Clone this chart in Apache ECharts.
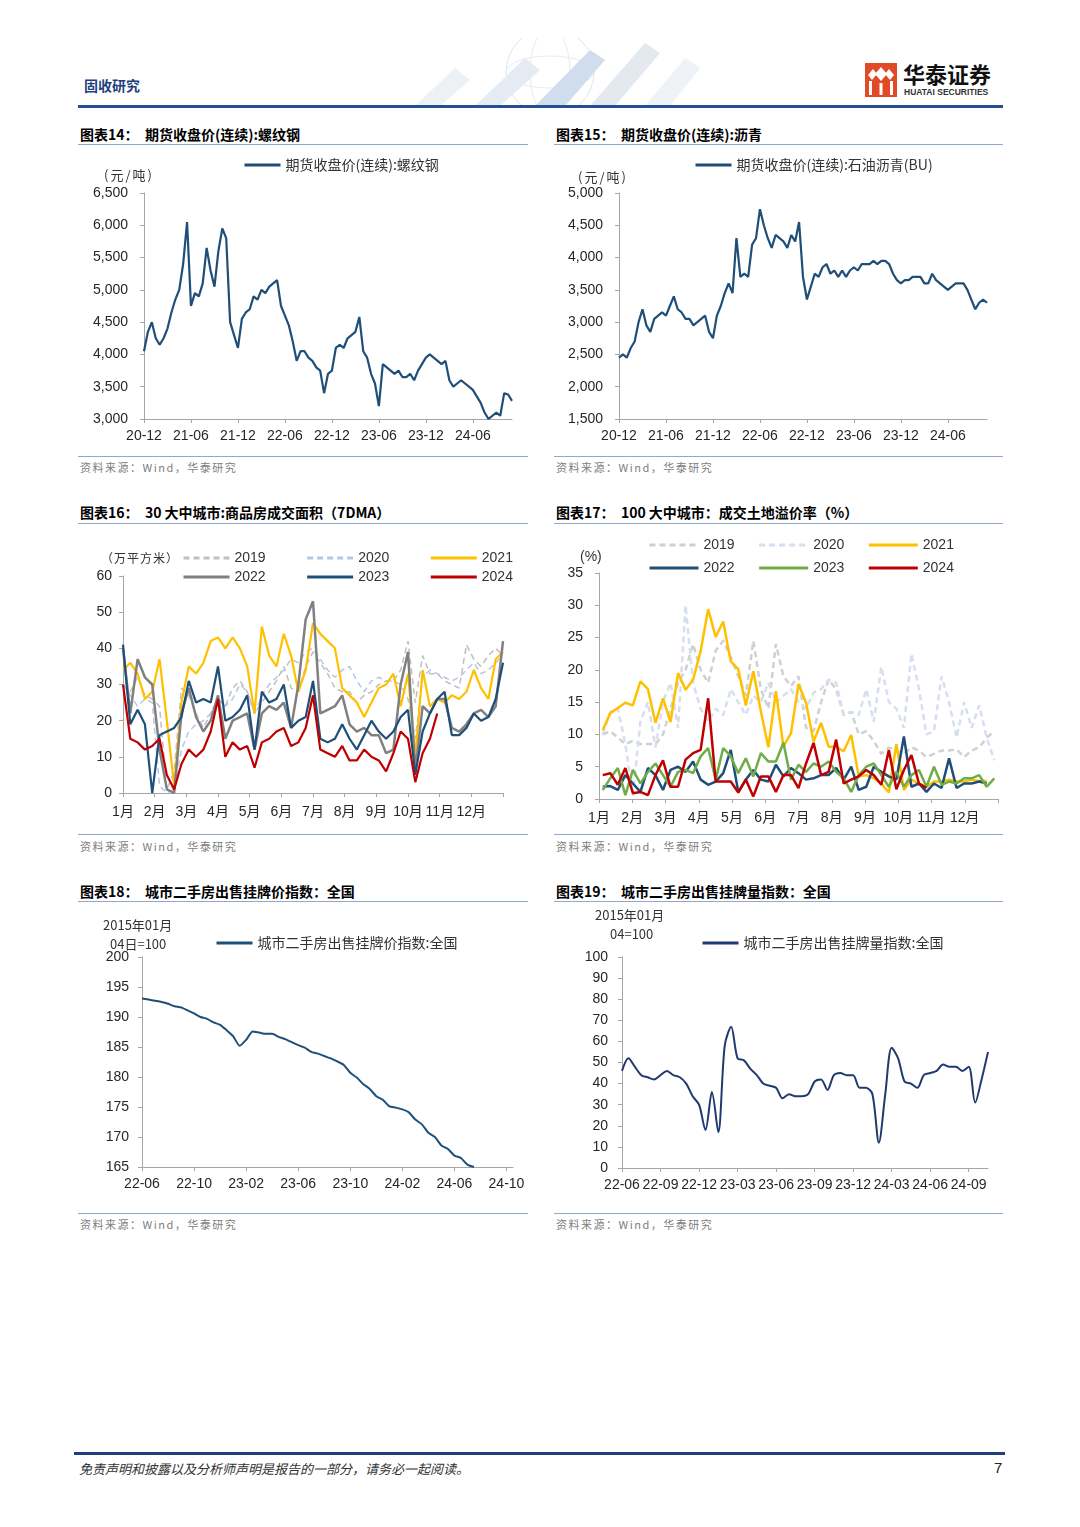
<!DOCTYPE html>
<html>
<head>
<meta charset="utf-8">
<script src="https://cdn.jsdelivr.net/npm/echarts@6/dist/echarts.min.js"></script>
<style>
  body { margin: 0; background: #fff; }
  #page { position: relative; width: 1080px; height: 1527px; overflow: hidden; background: #fff;
          font-family: 'Noto Sans CJK SC', 'Liberation Sans', sans-serif; }
  .abs { position: absolute; white-space: nowrap; }
  .title { font-size: 14px; font-weight: bold; color: #000; line-height: 18px; }
  .rule { position: absolute; height: 1px; background: #8eaacb; }
  .src { font-size: 11px; letter-spacing: 1.5px; color: #808080; line-height: 14px; }
  .unit { font-size: 12px; color: #333; line-height: 16px; }
  .chart { position: absolute; width: 450px; height: 300px; }
</style>
</head>
<body>
<div id="page">
  <!-- header -->
  <svg class="abs" style="left:415px;top:38px" width="300" height="68">
    <g opacity="0.55">
      <circle cx="135" cy="34" r="44" fill="none" stroke="#c9d3df" stroke-width="1"/>
      <ellipse cx="135" cy="34" rx="20" ry="44" fill="none" stroke="#d5dce6" stroke-width="1"/>
      <ellipse cx="135" cy="34" rx="44" ry="16" fill="none" stroke="#d5dce6" stroke-width="1"/>
      <polygon points="0,68 40,30 55,42 25,68" fill="#dfe6ef"/>
      <polygon points="60,68 110,20 125,32 85,68" fill="#cfdceb"/>
      <polygon points="120,68 175,12 190,22 150,68" fill="#a9c2e0"/>
      <polygon points="175,68 230,5 245,15 200,68" fill="#cfd8e4"/>
      <polygon points="230,68 270,20 285,30 255,68" fill="#e3e8ef"/>
    </g>
  </svg>
  <div class="abs" style="left:84px;top:76px;font-size:14px;font-weight:bold;color:#1f3f7f;line-height:18px">固收研究</div>
  <svg class="abs" style="left:865px;top:63px" width="32" height="34">
    <rect x="0" y="0" width="32" height="34" fill="#e04a24"/>
    <polygon points="16,4 22,11 16,18 10,11" fill="#fff"/>
    <polygon points="3,12 8,6 12,11 7,17" fill="#fff"/>
    <polygon points="29,12 24,6 20,11 25,17" fill="#fff"/>
    <rect x="4" y="18" width="3" height="14" fill="#fff"/>
    <rect x="25" y="18" width="3" height="14" fill="#fff"/>
    <rect x="14.5" y="20" width="3" height="12" fill="#fff"/>
  </svg>
  <div class="abs" style="left:903px;top:59px;font-size:22px;font-weight:bold;color:#111;line-height:28px">华泰证券</div>
  <div class="abs" style="left:904px;top:87px;font-size:8.5px;font-weight:bold;color:#333;line-height:11px;font-family:'Liberation Sans'">HUATAI SECURITIES</div>
  <div class="abs" style="left:78px;top:105px;width:925px;height:3px;background:#23508e"></div>

  <!-- titles -->
  <div class="abs title" style="left:80px;top:125px">图表14：&nbsp;&nbsp;期货收盘价(连续):螺纹钢</div>
  <div class="abs title" style="left:556px;top:125px">图表15：&nbsp;&nbsp;期货收盘价(连续):沥青</div>
  <div class="abs title" style="left:80px;top:503px">图表16：&nbsp;&nbsp;30 大中城市:商品房成交面积（7DMA）</div>
  <div class="abs title" style="left:556px;top:503px">图表17：&nbsp;&nbsp;100 大中城市：成交土地溢价率（%）</div>
  <div class="abs title" style="left:80px;top:882px">图表18：&nbsp;&nbsp;城市二手房出售挂牌价指数：全国</div>
  <div class="abs title" style="left:556px;top:882px">图表19：&nbsp;&nbsp;城市二手房出售挂牌量指数：全国</div>

  <div class="rule" style="left:78px;top:144px;width:450px"></div>
  <div class="rule" style="left:554px;top:144px;width:449px"></div>
  <div class="rule" style="left:78px;top:523px;width:450px"></div>
  <div class="rule" style="left:554px;top:523px;width:449px"></div>
  <div class="rule" style="left:78px;top:901px;width:450px"></div>
  <div class="rule" style="left:554px;top:901px;width:449px"></div>

  <div class="rule" style="left:78px;top:456px;width:450px"></div>
  <div class="rule" style="left:554px;top:456px;width:449px"></div>
  <div class="rule" style="left:78px;top:834px;width:450px"></div>
  <div class="rule" style="left:554px;top:834px;width:449px"></div>
  <div class="rule" style="left:78px;top:1213px;width:450px"></div>
  <div class="rule" style="left:554px;top:1213px;width:449px"></div>

  <div class="abs src" style="left:80px;top:460px">资料来源：Wind，华泰研究</div>
  <div class="abs src" style="left:556px;top:460px">资料来源：Wind，华泰研究</div>
  <div class="abs src" style="left:80px;top:839px">资料来源：Wind，华泰研究</div>
  <div class="abs src" style="left:556px;top:839px">资料来源：Wind，华泰研究</div>
  <div class="abs src" style="left:80px;top:1217px">资料来源：Wind，华泰研究</div>
  <div class="abs src" style="left:556px;top:1217px">资料来源：Wind，华泰研究</div>

  <!-- charts -->
  <div id="c14" class="chart" style="left:80px;top:150px"></div>
  <div id="c15" class="chart" style="left:555px;top:150px"></div>
  <div id="c16" class="chart" style="left:80px;top:530px"></div>
  <div id="c17" class="chart" style="left:555px;top:530px"></div>
  <div id="c18" class="chart" style="left:80px;top:910px"></div>
  <div id="c19" class="chart" style="left:555px;top:910px"></div>

  <!-- units -->
  <div class="abs unit" style="left:104px;top:167px;font-size:13px;letter-spacing:2px">(元/吨)</div>
  <div class="abs unit" style="left:578px;top:169px;font-size:13px;letter-spacing:2px">(元/吨)</div>
  <div class="abs unit" style="left:101px;top:550px;letter-spacing:1px">（万平方米）</div>
  <div class="abs unit" style="left:580px;top:548px;font-size:14px;font-family:'Liberation Sans'">(%)</div>
  <div class="abs unit" style="left:103px;top:917px;font-size:13px">2015年01月</div>
  <div class="abs unit" style="left:110px;top:936px;font-size:13px">04日=100</div>
  <div class="abs unit" style="left:595px;top:907px;font-size:13px">2015年01月</div>
  <div class="abs unit" style="left:610px;top:926px;font-size:13px">04=100</div>

  <!-- footer -->
  <div class="abs" style="left:74px;top:1452px;width:931px;height:3px;background:#1f3f7f"></div>
  <div class="abs" style="left:79px;top:1460px;font-size:13px;font-style:italic;color:#333;line-height:18px">免责声明和披露以及分析师声明是报告的一部分，请务必一起阅读。</div>
  <div class="abs" style="left:994px;top:1459px;font-size:15px;color:#222;line-height:18px;font-family:'Liberation Sans'">7</div>
</div>

<script>
// ---- data ----
// half-month samples, 20-12 .. 24-11
const rebar = [4050, 4350, 4500, 4250, 4150, 4250, 4400, 4650, 4850, 5000,
  5400, 6050, 4750, 4950, 4900, 5100, 5650, 5300, 5050, 5600,
  5950, 5800, 4500, 4300, 4100, 4550, 4650, 4700, 4900, 4850,
  5000, 4950, 5050, 5100, 5150, 4750, 4600, 4450, 4200, 3900,
  4050, 4050, 3950, 3900, 3800, 3750, 3400, 3700, 3750, 4100,
  4150, 4100, 4250, 4300, 4350, 4580, 4050, 3950, 3700, 3550,
  3200, 3850, 3800, 3750, 3700, 3750, 3650, 3650, 3700, 3600,
  3750, 3850, 3950, 4000, 3950, 3900, 3850, 3900, 3600, 3500,
  3550, 3600, 3550, 3500, 3450, 3350, 3250, 3100, 3000, 3050,
  3100, 3050, 3400, 3380, 3280]
const asphalt = [2450, 2500, 2450, 2600, 2700, 3000, 3200, 2950, 2850, 3050,
  3100, 3150, 3100, 3250, 3400, 3200, 3150, 3050, 3050, 2950,
  3000, 3050, 3100, 2850, 2750, 3100, 3250, 3450, 3600, 3450,
  4300, 3700, 3750, 3700, 4200, 4300, 4750, 4500, 4300, 4150,
  4350, 4300, 4250, 4150, 4350, 4250, 4550, 3700, 3350, 3550,
  3750, 3700, 3850, 3900, 3750, 3800, 3700, 3800, 3700, 3800,
  3850, 3800, 3900, 3900, 3900, 3950, 3900, 3950, 3950, 3900,
  3750, 3650, 3600, 3650, 3650, 3700, 3700, 3700, 3600, 3600,
  3750, 3650, 3600, 3550, 3500, 3550, 3600, 3600, 3600, 3500,
  3350, 3200, 3300, 3350, 3300]

// weekly 7DMA, wan m2
const area2019 = [30, 28, 32, 27, 26, 24, 1, 6, 29, 27, 22, 18, 22, 26, 24, 29, 31, 28, 22, 25,
  28, 31, 35, 29, 28, 35, 39, 36, 33, 29, 28, 28, 25, 27, 28, 30, 31, 31, 34, 42,
  25, 38, 33, 33, 31, 30, 29, 41, 37, 35, 38, 40, 38]
const area2020 = [30, 27, 24, 26, 25, 2, 0, 1, 12, 17, 19, 20, 22, 26, 24, 26, 30, 28, 22, 27,
  30, 32, 34, 37, 36, 39, 40, 37, 34, 32, 34, 35, 31, 28, 31, 32, 31, 31, 30, 26,
  15, 32, 34, 33, 32, 31, 32, 34, 36, 33, 34, 36, 38]
const area2021 = [34, 36, 33, 26, 28, 37, 20, 2, 25, 35, 33, 36, 42, 43, 40, 43, 40, 35, 22, 46,
  38, 35, 44, 38, 28, 34, 47, 44, 42, 40, 29, 27, 25, 21, 25, 29, 30, 33, 24, 33,
  10, 34, 24, 26, 25, 27, 26, 28, 34, 29, 26, 37, 39]
const area2022 = [40, 22, 37, 32, 30, 12, 1, 0, 22, 29, 21, 17, 20, 27, 15, 20, 21, 22, 12, 22,
  24, 23, 25, 18, 30, 48, 53, 22, 23, 24, 27, 19, 17, 18, 16, 16, 11, 12, 30, 39,
  6, 24, 22, 26, 26, 18, 17, 19, 22, 23, 21, 24, 42]
const area2023 = [41, 19, 23, 19, 0, 16, 17, 18, 21, 31, 25, 26, 25, 35, 20, 21, 23, 27, 12, 28,
  25, 26, 30, 18, 20, 21, 31, 15, 14, 15, 19, 15, 12, 16, 20, 17, 15, 17, 21, 23,
  5, 17, 22, 26, 28, 16, 16, 18, 22, 20, 21, 26, 36]
const area2024 = [30, 15, 14, 12, 13, 15, 5, 1, 8, 12, 10, 12, 17, 26, 10, 14, 12, 13, 7, 14,
  15, 17, 18, 13, 14, 18, 27, 12, 11, 10, 13, 9, 9, 12, 10, 9, 6, 11, 17, 15,
  3, 11, 15, 22]

// weekly land premium rate, %
const prem2019 = [10, 10.5, 9.5, 8.5, 9, 8.5, 8.5, 8.5, 10, 14, 18, 20, 24, 20, 18, 23, 24.5, 22, 19, 16,
  24.5, 17, 14, 24, 19, 17.5, 19, 11, 10.5, 15, 18.5, 17, 13, 13.5, 10, 10.5, 9, 7, 8, 7.5,
  7, 8, 7.5, 6.5, 7, 7.5, 7.5, 7.7, 6.5, 7.5, 8, 9.5, 10.5]
const prem2020 = [10, 13.5, 14, 8.5, 0.5, 12, 15, 8, 15, 18, 11, 30, 18, 14, 12, 14, 13, 17, 15, 13,
  16, 15, 18, 15, 16, 17, 15, 14, 16.5, 17, 18.5, 18, 13, 13.5, 13, 17, 12, 20.5, 15, 14,
  11, 22.5, 17, 10, 10.5, 19, 15, 9.5, 15, 11, 14.5, 9.5, 6]
const prem2021 = [10.7, 13.3, 14.1, 14.9, 14.5, 18.2, 17.0, 11.8, 15.6, 11.9, 19.5, 16.9, 18.5, 22.9, 29.4, 25.1, 27.5, 21.3, 20.1, 14.5,
  19.8, 13.6, 8.0, 16.7, 8.1, 10.2, 17.8, 14.9, 8.9, 11.8, 8.1, 8.1, 7.4, 9.9, 3.5, 3.7, 3.2, 2.4, 1.0, 8.5,
  1.4, 3.0, 2.4, 1.9, 2.7, 2.7, 3.0, 2.7, 2.7, 3.0, 2.8, 2.8]
const prem2022 = [1.9, 2.0, 1.4, 3.7, 2.4, 1.1, 4.8, 3.7, 1.4, 4.5, 5.0, 4.2, 5.8, 3.0, 2.2, 2.7, 4.0, 7.6, 1.1, 3.0,
  4.5, 3.0, 2.7, 5.3, 3.5, 4.8, 4.0, 3.0, 3.2, 3.7, 3.7, 4.8, 3.0, 5.0, 1.4, 1.9, 5.0, 4.2, 3.5, 3.0,
  9.7, 1.9, 2.4, 1.1, 2.4, 1.7, 6.3, 1.7, 2.4, 2.4, 2.7, 2.4]
const prem2023 = [1.4, 3.2, 4.8, 0.6, 4.5, 2.4, 4.2, 5.5, 3.7, 1.9, 4.2, 4.5, 4.0, 6.6, 7.9, 3.0, 7.9, 6.6, 4.0, 6.3,
  3.5, 7.1, 5.8, 5.8, 8.7, 3.0, 5.3, 4.2, 5.5, 5.0, 5.8, 4.2, 3.2, 1.1, 3.7, 5.0, 5.5, 3.7, 1.9, 4.2,
  1.9, 3.7, 4.5, 1.9, 5.0, 2.2, 2.7, 2.4, 3.2, 3.2, 3.7, 1.9, 3.2]
const prem2024 = [3.7, 4.0, 2.2, 4.8, 0.9, 1.1, 0.6, 3.7, 6.0, 1.9, 1.9, 6.1, 7.1, 7.6, 15.6, 2.7, 2.7, 2.7, 1.0, 3.0,
  0.4, 3.5, 3.5, 1.1, 3.7, 3.7, 1.7, 5.5, 8.7, 3.7, 4.2, 9.2, 2.4, 3.0, 3.5, 4.5, 3.7, 2.2, 7.6, 1.5,
  4.5, 6.8, 2.4, 1.7]
const monthNames = ['1月', '2月', '3月', '4月', '5月', '6月', '7月', '8月', '9月', '10月', '11月', '12月']

// half-month samples, 22-06 .. 24-10
const listPrice = [193.1, 192.9, 192.7, 192.5, 192.2, 191.8, 191.6, 191.1, 190.6, 190.0,
  189.7, 189.1, 188.7, 187.8, 186.8, 185.2, 186.2, 187.6, 187.4, 187.2,
  187.2, 186.7, 186.3, 185.8, 185.3, 184.9, 184.2, 183.9, 183.5, 183.1,
  182.6, 182.0, 180.7, 179.9, 178.8, 178.0, 176.8, 176.2, 175.1, 174.9,
  174.6, 174.1, 172.9, 172.1, 170.7, 170.0, 168.6, 168.0, 166.9, 166.5,
  165.4, 165.0]
const listVolume = [46, 52, 48, 44, 43, 42, 44, 46, 44, 43,
  40, 34, 30, 18, 36, 17, 58, 67, 52, 51,
  47, 44, 40, 39, 38, 33, 35, 34, 34, 35,
  41, 42, 37, 44, 45, 44, 44, 38, 38, 35,
  12, 35, 57, 52, 41, 40, 38, 44, 45, 46,
  49, 48, 48, 46, 48, 31, 42, 55]

// ---- helpers ----
const FONT = "'Liberation Sans', 'Noto Sans CJK SC', sans-serif"
const CJK = "'Noto Sans CJK SC', sans-serif"
const AX = '#a6a6a6'
const LABEL = '#262626'

function halfMonths(start, count) {
  let [y, m] = start.split('-').map(Number)
  const out = []
  for (let i = 0; i < count; i++) {
    out.push(String(y).slice(2) + '-' + String(m).padStart(2, '0') + (i % 2 ? '-16' : '-01'))
    if (i % 2) { m++; if (m > 12) { m = 1; y++ } }
  }
  return out
}

function catX(cats, step, boundaryGap) {
  const show = (i) => i % step === 0
  return {
    type: 'category', data: cats, boundaryGap: !!boundaryGap,
    axisLine: { show: true, lineStyle: { color: AX } },
    axisTick: { show: true, interval: show, length: 4, lineStyle: { color: AX } },
    axisLabel: { interval: show, formatter: (v) => v.slice(0, 5), color: LABEL, fontSize: 14, fontFamily: FONT, margin: 10 },
    splitLine: { show: false },
  }
}

function monthX() {
  return {
    type: 'value', min: 0, max: 12, interval: 1, position: 'bottom',
    axisLine: { show: true, lineStyle: { color: AX } },
    axisTick: { show: true, length: 4, lineStyle: { color: AX } },
    axisLabel: { formatter: (v) => monthNames[v] || '', color: LABEL, fontSize: 14, fontFamily: FONT, margin: 12 },
    splitLine: { show: false },
  }
}

function valY(min, max, interval, margin, fmt) {
  return {
    type: 'value', min, max, interval,
    axisLine: { show: true, lineStyle: { color: AX } },
    axisTick: { show: true, length: 4, lineStyle: { color: AX } },
    axisLabel: { color: LABEL, fontSize: 14, fontFamily: FONT, margin, formatter: fmt },
    splitLine: { show: false },
  }
}

function line(name, data, color, width, dashed, extra) {
  return Object.assign({
    name, type: 'line', data, symbol: 'none', showSymbol: false,
    itemStyle: { color },
    lineStyle: { color, width, type: dashed ? [6, 4] : 'solid' },
    emphasis: { disabled: true },
  }, extra || {})
}

// itemHeight kept tiny so the legend's marker dot disappears into the line
function legendRow(names, left, top, itemWidth, gap, fontSize, fontFamily) {
  return {
    data: names, left, top, itemWidth, itemHeight: 2, itemGap: gap,
    orient: 'horizontal', selectedMode: false, padding: 0,
    itemStyle: { borderWidth: 0 },
    lineStyle: { width: 3 },
    textStyle: { color: '#333', fontSize, fontFamily: fontFamily || FONT },
  }
}

function grid(left, top, width, height) {
  return { left, top, width, height, containLabel: false, outerBoundsMode: 'none' }
}

const thousands = (v) => v.toLocaleString('en-US')

// ---- charts ----
function init(id, option) {
  const chart = echarts.init(document.getElementById(id), null, { renderer: 'canvas' })
  chart.setOption(Object.assign({ animation: false, textStyle: { fontFamily: FONT } }, option))
  return chart
}

const cats14 = halfMonths('2020-12', 95)

init('c14', {
  grid: grid(64, 43, 368, 226),
  legend: legendRow(['期货收盘价(连续):螺纹钢'], 163, 8, 36, 10, 14, CJK),
  xAxis: catX(cats14, 12),
  yAxis: valY(3000, 6500, 500, 16, thousands),
  series: [line('期货收盘价(连续):螺纹钢', rebar, '#1f4e79', 2.2)],
})

init('c15', {
  grid: grid(64, 43, 368, 226),
  legend: legendRow(['期货收盘价(连续):石油沥青(BU)'], 139, 8, 36, 10, 14, CJK),
  xAxis: catX(cats14, 12),
  yAxis: valY(1500, 5000, 500, 16, thousands),
  series: [line('期货收盘价(连续):石油沥青(BU)', asphalt, '#1f4e79', 2.2)],
})

const weeks53 = Array.from({ length: 53 }, (_, i) => 'W' + (i + 1))

init('c16', {
  grid: grid(43, 46, 380, 217),
  legend: [
    legendRow(['2019', '2020', '2021'], 102, 21, 46, 40, 14),
    legendRow(['2022', '2023', '2024'], 102, 40, 46, 40, 14),
  ],
  xAxis: [
    { type: 'category', data: weeks53, boundaryGap: false, show: false },
    monthX(),
  ],
  yAxis: valY(0, 60, 10, 11),
  series: [
    line('2019', area2019, '#bfbfbf', 1.5, true),
    line('2020', area2020, '#b4c7e7', 1.5, true),
    line('2021', area2021, '#ffc000', 2.2),
    line('2022', area2022, '#808080', 2.5),
    line('2023', area2023, '#1f4e79', 2.2),
    line('2024', area2024, '#c00000', 2.2),
  ],
})

init('c17', {
  grid: grid(44, 43, 399, 226),
  legend: [
    legendRow(['2019', '2020', '2021'], 93, 8, 49, 23, 14),
    legendRow(['2022', '2023', '2024'], 93, 31, 49, 23, 14),
  ],
  xAxis: [
    { type: 'category', data: weeks53, boundaryGap: true, show: false },
    monthX(),
  ],
  yAxis: valY(0, 35, 5, 16),
  series: [
    line('2019', prem2019, '#d0d0d0', 2.5, true),
    line('2020', prem2020, '#d6dff0', 2.5, true),
    line('2021', prem2021, '#ffc000', 2.5),
    line('2022', prem2022, '#1f4e79', 2.5),
    line('2023', prem2023, '#70ad47', 2.5),
    line('2024', prem2024, '#c00000', 2.5),
  ],
})

const cats18 = halfMonths('2022-06', 58)

init('c18', {
  grid: grid(62, 47, 371, 210),
  legend: legendRow(['城市二手房出售挂牌价指数:全国'], 135, 26, 36, 10, 14, CJK),
  xAxis: catX(cats18, 8),
  yAxis: valY(165, 200, 5, 13),
  series: [line('城市二手房出售挂牌价指数:全国', listPrice, '#1f4e79', 2, false, { smooth: 0.2 })],
})

init('c19', {
  grid: grid(67, 47, 366, 211),
  legend: legendRow(['城市二手房出售挂牌量指数:全国'], 146, 26, 36, 10, 14, CJK),
  xAxis: catX(cats18, 6),
  yAxis: valY(0, 100, 10, 14),
  series: [line('城市二手房出售挂牌量指数:全国', listVolume, '#1f3a70', 2, false, { smooth: 0.3 })],
})
</script>
</body>
</html>
